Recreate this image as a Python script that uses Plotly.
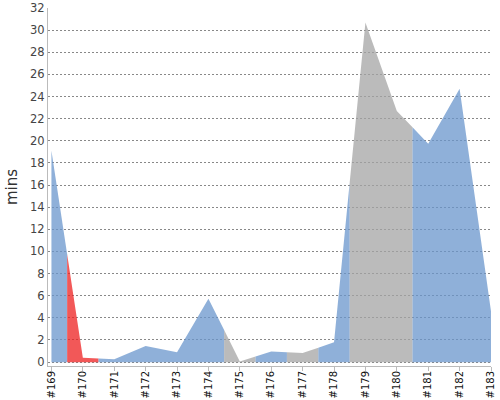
import plotly.graph_objects as go

# build labels and minutes per build
builds = ['#169', '#170', '#171', '#172', '#173', '#174', '#175', '#176',
          '#177', '#178', '#179', '#180', '#181', '#182', '#183']
minutes = [19.1, 0.4, 0.25, 1.45, 0.9, 5.73, 0.06, 0.97,
           0.82, 1.8, 30.7, 22.7, 19.73, 24.7, 4.6]
status = ['ok', 'fail', 'ok', 'ok', 'ok', 'ok', 'skip', 'ok',
          'skip', 'ok', 'skip', 'skip', 'ok', 'ok', 'ok']

colors = {
    'ok': 'rgba(106,150,204,0.75)',
    'fail': 'rgba(238,32,32,0.75)',
    'skip': 'rgba(164,164,164,0.75)',
}

n = len(builds)


def mid(i):
    return (minutes[i] + minutes[i + 1]) / 2.0


# group consecutive builds with the same status into one filled area
runs = []
start = 0
for i in range(1, n + 1):
    if i == n or status[i] != status[start]:
        runs.append((start, i - 1))
        start = i

fig = go.Figure()
for a, b in runs:
    xs, ys = [], []
    if a > 0:
        xs.append(a - 0.5)
        ys.append(mid(a - 1))
    for i in range(a, b + 1):
        xs.append(i)
        ys.append(minutes[i])
    if b < n - 1:
        xs.append(b + 0.5)
        ys.append(mid(b))
    fig.add_trace(go.Scatter(
        x=xs, y=ys, mode='lines', fill='tozeroy',
        fillcolor=colors[status[a]], line=dict(width=0),
        hoverinfo='skip', showlegend=False
    ))

fig.update_layout(
    width=500, height=400,
    margin=dict(l=48, r=9, t=8, b=34),
    paper_bgcolor='white', plot_bgcolor='white',
    font=dict(family='DejaVu Sans', size=11, color='#444'),
    xaxis=dict(
        range=[-0.11, n - 1],
        tickvals=list(range(n)), ticktext=builds,
        tickangle=-90, ticks='outside', ticklen=4, tickcolor='#bbb',
        tickfont=dict(color='#111', size=10), ticklabelstandoff=-4,
        showline=True, linecolor='#bbb', linewidth=1,
        showgrid=False, zeroline=False, automargin=False
    ),
    yaxis=dict(
        range=[-0.35, 32], dtick=2, tick0=0,
        title=dict(text='mins', font=dict(size=15, color='#333'), standoff=8),
        tickfont=dict(size=11.5),
        showline=True, linecolor='#bbb', linewidth=1,
        showgrid=True, gridcolor='#888', griddash='2px,2px', gridwidth=1,
        zeroline=False, ticks='', automargin=False
    ),
)

# the page body has a default margin, drop it so the figure sits at 0,0
fig.write_html("out.html", config={'displayModeBar': False},
               post_script="document.body.style.margin='0';")
